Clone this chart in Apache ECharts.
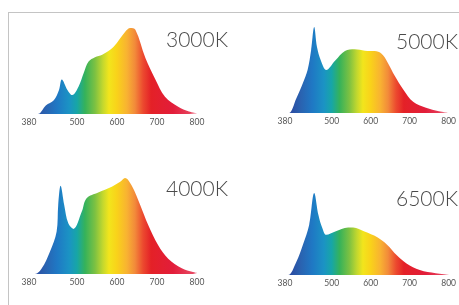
<!DOCTYPE html>
<html>
<head>
    <meta charset="utf-8">
    <title>Spectra</title>
    <script src="https://cdn.jsdelivr.net/npm/echarts@6/dist/echarts.min.js"></script>
    <style>
        html, body { margin: 0; padding: 0; background: #fff; }
    </style>
</head>
<body>
    <div id="main" style="width: 459px;height:305px;"></div>
    <script type="text/javascript">

    // wavelength ticks shown under each spectrum
    var tickNm = [380, 500, 600, 700, 800];
    var titles = ['3000K', '5000K', '4000K', '6500K'];

    // relative intensity
    var nm3000 = [380, 402, 422, 442, 455, 462, 476, 488, 504, 517, 529, 545, 563, 591, 621, 633, 646, 671, 696, 720, 753, 780, 800];
    var val3000 = [0, 0, 0.10, 0.16, 0.28, 0.40, 0.28, 0.22, 0.32, 0.48, 0.61, 0.66, 0.69, 0.78, 0.96, 1.0, 0.98, 0.65, 0.40, 0.20, 0.085, 0.03, 0.01];

    var nm5000 = [380, 390, 409, 426, 438, 447, 455, 462, 472, 486, 509, 534, 559, 585, 610, 628, 642, 662, 684, 709, 742, 775, 800];
    var val5000 = [0, 0, 0.17, 0.35, 0.50, 0.73, 1.0, 0.77, 0.61, 0.50, 0.61, 0.72, 0.74, 0.725, 0.72, 0.69, 0.60, 0.43, 0.27, 0.13, 0.06, 0.02, 0.005];

    var nm4000 = [380, 395, 412, 432, 449, 453, 459, 468, 478, 491, 512, 524, 553, 587, 608, 620, 637, 658, 678, 703, 728, 762, 790, 800];
    var val4000 = [0, 0, 0.06, 0.23, 0.44, 0.72, 0.92, 0.72, 0.53, 0.47, 0.65, 0.79, 0.85, 0.91, 0.96, 1.0, 0.92, 0.72, 0.51, 0.30, 0.16, 0.06, 0.02, 0.01];

    var nm6500 = [380, 388, 409, 426, 442, 455, 466, 476, 486, 509, 542, 555, 584, 617, 642, 667, 692, 726, 767, 800];
    var val6500 = [0, 0, 0.16, 0.37, 0.61, 1.0, 0.73, 0.57, 0.49, 0.53, 0.58, 0.58, 0.53, 0.46, 0.37, 0.24, 0.14, 0.06, 0.02, 0];

    // rainbow along the wavelength axis
    var stopNm = [380, 420, 450, 480, 500, 520, 545, 565, 580, 600, 625, 645, 665, 685, 740, 800];
    var stopColor = ['#2b3f99', '#2a62b0', '#1f78c4', '#1b93c4', '#17a6a6', '#35b25a', '#7cc142', '#c4d82e',
        '#f2e51c', '#f9d21a', '#f8b232', '#f28a3a', '#ec4a2f', '#e42127', '#e21d3a', '#e8506a'];

    var spectra = [
        { nm: nm3000, val: val3000 },
        { nm: nm5000, val: val5000 },
        { nm: nm4000, val: val4000 },
        { nm: nm6500, val: val6500 }
    ];

    var grids = [
        { left: 29, top: 28, width: 168, height: 86 },
        { left: 285, top: 27, width: 168, height: 86 },
        { left: 29, top: 178, width: 168, height: 96 },
        { left: 285, top: 193, width: 168, height: 82 }
    ];
    var titlePos = [
        { left: 166, top: 30 },
        { left: 396, top: 32 },
        { left: 166, top: 179 },
        { left: 396, top: 189 }
    ];

    var gradient = {
        type: 'linear', x: 0, y: 0, x2: 1, y2: 0,
        colorStops: stopNm.map(function (n, i) {
            return { offset: (n - 380) / 420, color: stopColor[i] };
        })
    };

    var myChart = echarts.init(document.getElementById('main'));

    var option = {
        backgroundColor: '#fff',
        animation: false,
        title: [],
        grid: [],
        xAxis: [],
        yAxis: [],
        series: [],
        graphic: [
            { type: 'line', shape: { x1: 8, y1: 12.5, x2: 459, y2: 12.5 }, style: { stroke: '#c4c4c4', lineWidth: 1 } },
            { type: 'line', shape: { x1: 8.5, y1: 12, x2: 8.5, y2: 305 }, style: { stroke: '#c4c4c4', lineWidth: 1 } }
        ]
    };

    for (var i = 0; i < 4; i++) {
        option.grid.push(grids[i]);
        option.title.push({
            text: titles[i],
            left: titlePos[i].left,
            top: titlePos[i].top,
            padding: 0,
            textStyle: { fontFamily: 'Lato', fontWeight: 300, fontSize: 21, color: '#4a4a4a' }
        });
        option.xAxis.push({
            type: 'value', gridIndex: i, min: 380, max: 800,
            axisLine: { show: false }, axisTick: { show: false }, splitLine: { show: false },
            axisLabel: { customValues: tickNm, margin: 4, fontSize: 8.5, color: '#555', fontFamily: 'Lato' }
        });
        option.yAxis.push({ type: 'value', gridIndex: i, min: 0, max: 1, show: false });
        var pts = spectra[i].nm.map(function (n, k) { return [n, spectra[i].val[k]]; });
        option.series.push({
            type: 'line', xAxisIndex: i, yAxisIndex: i,
            data: pts, smooth: 0.35, symbol: 'none', clip: true,
            lineStyle: { width: 0 },
            areaStyle: { color: gradient, opacity: 1 }
        });
    }

    myChart.setOption(option);
    </script>
</body>
</html>
